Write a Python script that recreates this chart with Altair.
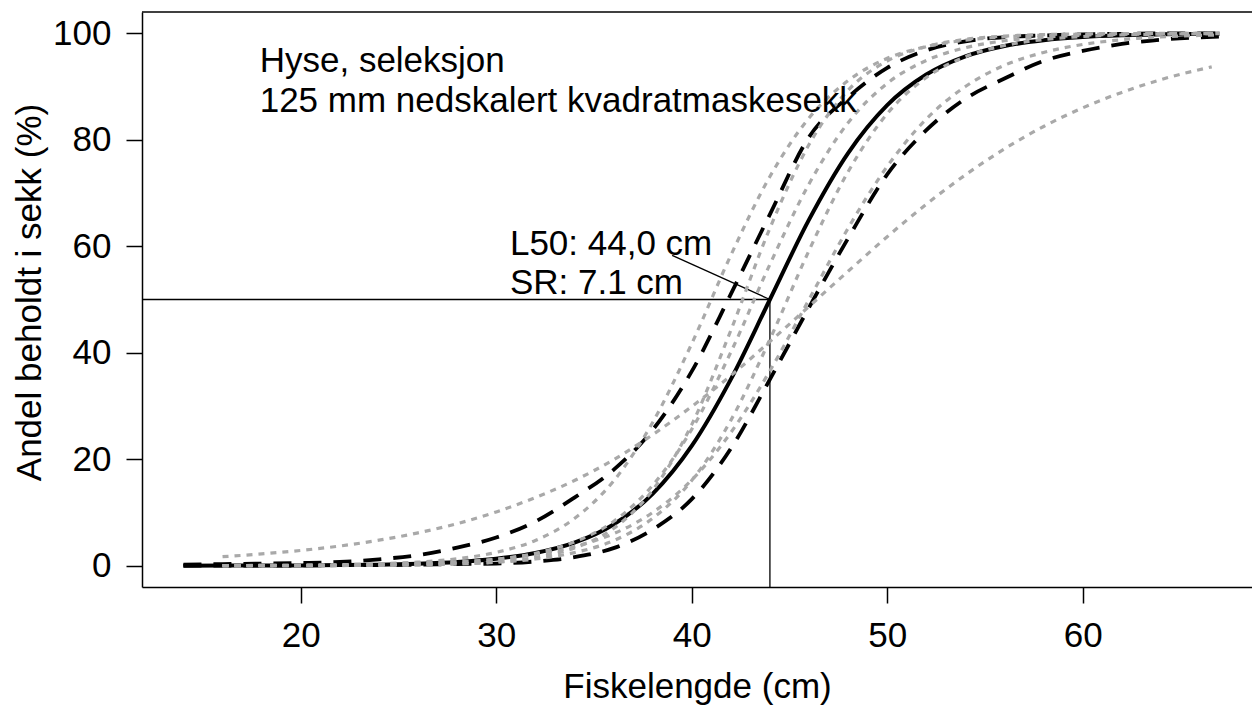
import altair as alt
import pandas as pd

# ---- data ----
L_BLACK = [14, 16, 18, 20, 22, 24, 26, 28, 30, 32, 34, 36, 38, 40, 42, 44,
           46, 48, 50, 52, 54, 56, 58, 60, 62, 64, 67]
L_GRAY = [16, 18, 20, 22, 24, 26, 28, 30, 32, 34, 36, 38, 40, 42, 44,
          46, 48, 50, 52, 54, 56, 58, 60, 62, 64, 67]
L_FLAT = [16, 18, 20, 22, 24, 26, 28, 30, 32, 34, 36, 38, 40, 42, 44,
          46, 48, 50, 52, 54, 56, 58, 60, 62, 64, 66.6]

SOLID = [0.01, 0.02, 0.03, 0.06, 0.11, 0.20, 0.38, 0.70, 1.30, 2.38, 4.33, 7.75,
         13.5, 22.5, 35.0, 50.0, 65.0, 77.5, 86.5, 92.25, 95.67, 97.62, 98.70,
         99.30, 99.62, 99.80, 99.92]
UPPER = [0.2, 0.3, 0.4, 0.5, 0.7, 1.2, 2.0, 3.4, 5.3, 8.3, 12.8, 18.0, 25.5,
         36.5, 51.0, 66.0, 80.5, 88.0, 93.5, 96.8, 98.5, 99.3, 99.6, 99.8,
         99.9, 100.0, 100.0]
LOWER = [0.0, 0.0, 0.0, 0.05, 0.1, 0.1, 0.2, 0.3, 0.4, 0.8, 1.6, 3.3, 6.8,
         12.5, 22.0, 35.0, 48.5, 61.5, 73.5, 81.8, 87.7, 91.5, 94.8, 96.7,
         98.0, 98.8, 99.4]

G1 = [0.02, 0.05, 0.09, 0.18, 0.35, 0.67, 1.30, 2.51, 4.74, 8.87, 15.9, 26.9,
      41.7, 58.3, 73.1, 84.1, 91.1, 95.3, 97.5, 98.7, 99.33, 99.65, 99.82,
      99.91, 99.95, 99.98]
G2 = [0.003, 0.006, 0.014, 0.03, 0.07, 0.15, 0.33, 0.71, 1.54, 3.32, 7.0,
      14.2, 26.5, 44.2, 63.4, 79.1, 89.3, 94.8, 97.5, 98.87, 99.48, 99.76,
      99.89, 99.95, 99.98, 99.99]
G3 = [0.01, 0.02, 0.04, 0.09, 0.17, 0.33, 0.63, 1.21, 2.34, 4.47, 8.3, 15.1,
      25.6, 40.1, 56.6, 71.7, 83.2, 90.6, 94.9, 97.3, 98.6, 99.28, 99.63,
      99.81, 99.90, 99.96]
G4 = [0.01, 0.01, 0.02, 0.04, 0.09, 0.17, 0.33, 0.64, 1.26, 2.46, 4.7, 8.9,
      16.0, 27.3, 42.5, 59.2, 74.0, 84.9, 91.7, 95.6, 97.7, 98.82, 99.39,
      99.69, 99.84, 99.94]
G5 = [0.03, 0.05, 0.08, 0.14, 0.24, 0.41, 0.71, 1.22, 2.10, 3.6, 6.0, 10.0,
      16.1, 25.0, 36.6, 50.0, 63.4, 75.0, 83.9, 90.0, 94.0, 96.4, 97.9, 98.8,
      99.3, 99.7]
G6 = [1.69, 2.21, 2.87, 3.70, 4.79, 6.17, 7.9, 10.1, 12.8, 16.0, 19.9, 24.6,
      29.9, 35.7, 42.1, 48.7, 55.3, 61.8, 67.9, 73.4, 78.3, 82.5, 86.0, 88.9,
      91.3, 93.7]

L50 = 44.0
X_TICKS = [20, 30, 40, 50, 60]
Y_TICKS = [0, 20, 40, 60, 80, 100]
TITLE_LINES = ["Hyse, seleksjon", "125 mm nedskalert kvadratmaskesekk"]
STAT_LINES = ["L50: 44,0 cm", "SR: 7.1 cm"]

# ---- tables ----
def table(name, xs, ys):
    return pd.DataFrame({"l": xs, "p": ys, "curve": name})

solid_df = table("fit", L_BLACK, SOLID)
dash_df = pd.concat([table("upper", L_BLACK, UPPER), table("lower", L_BLACK, LOWER)])
gray_df = pd.concat([
    table("g1", L_GRAY, G1), table("g2", L_GRAY, G2), table("g3", L_GRAY, G3),
    table("g4", L_GRAY, G4), table("g5", L_GRAY, G5), table("g6", L_FLAT, G6),
])

X_DOMAIN = [11.88, 68.66]
Y_DOMAIN = [-4, 104]
FONT = "Liberation Sans"
FS = 35

xs = alt.Scale(domain=X_DOMAIN, nice=False, zero=False)
ys = alt.Scale(domain=Y_DOMAIN, nice=False, zero=False)

x_axis = alt.Axis(values=X_TICKS, title="Fiskelengde (cm)", grid=False,
                  tickSize=16, tickWidth=1.5, tickColor="black",
                  domainColor="black", domainWidth=1.5,
                  labelFont=FONT, labelFontSize=FS, labelColor="black",
                  labelPadding=15, labelFlush=False, labelOverlap=False,
                  titleFont=FONT, titleFontSize=FS, titleFontWeight="normal",
                  titleColor="black", titleBaseline="middle", titleY=99)
y_axis = alt.Axis(values=Y_TICKS, title="Andel beholdt i sekk (%)", grid=False,
                  tickSize=16, tickWidth=1.5, tickColor="black",
                  domainColor="black", domainWidth=1.5,
                  labelFont=FONT, labelFontSize=FS, labelColor="black",
                  labelPadding=15, labelFlush=False, labelOverlap=False,
                  titleFont=FONT, titleFontSize=FS, titleFontWeight="normal",
                  titleColor="black", titleBaseline="middle", titleX=-113,
                  titleY=280)

X = alt.X("l:Q", scale=xs, axis=x_axis)
Y = alt.Y("p:Q", scale=ys, axis=y_axis)

solid = alt.Chart(solid_df).mark_line(color="black", strokeWidth=4,
                                      interpolate="monotone", clip=True).encode(
    x=X, y=Y, detail="curve:N")
dashed = alt.Chart(dash_df).mark_line(color="black", strokeWidth=3.8,
                                      strokeDash=[18, 12], interpolate="monotone",
                                      clip=True).encode(
    x=alt.X("l:Q", scale=xs), y=alt.Y("p:Q", scale=ys), detail="curve:N")
dotted = alt.Chart(gray_df).mark_line(color="#a9a9a9", strokeWidth=3.2,
                                      strokeDash=[6, 6], interpolate="monotone",
                                      clip=True).encode(
    x=alt.X("l:Q", scale=xs), y=alt.Y("p:Q", scale=ys), detail="curve:N")

# reference lines at L50
ref_df = pd.DataFrame({
    "x1": [X_DOMAIN[0], L50, 39.0],
    "x2": [L50, L50, L50],
    "y1": [50, Y_DOMAIN[0], 58.3],
    "y2": [50, 50, 50],
})
refs = alt.Chart(ref_df).mark_rule(color="black", strokeWidth=1.3).encode(
    x=alt.X("x1:Q", scale=xs), x2="x2:Q",
    y=alt.Y("y1:Q", scale=ys), y2="y2:Q")

# top frame
frame_df = pd.DataFrame({"x1": [X_DOMAIN[0]], "x2": [X_DOMAIN[1]], "y1": [Y_DOMAIN[1]]})
frame = alt.Chart(frame_df).mark_rule(color="black", strokeWidth=1.5).encode(
    x=alt.X("x1:Q", scale=xs), x2="x2:Q", y=alt.Y("y1:Q", scale=ys))

text_df = pd.DataFrame({
    "label": TITLE_LINES + STAT_LINES,
    "tx": [17.9, 17.9, 30.7, 30.7],
    "ty": [92.7, 85.2, 58.4, 51.0],
})
texts = alt.Chart(text_df).mark_text(align="left", baseline="alphabetic",
                                     font=FONT, fontSize=FS, color="black").encode(
    x=alt.X("tx:Q", scale=xs), y=alt.Y("ty:Q", scale=ys), text="label:N")

chart = alt.layer(solid, dashed, refs, dotted, frame, texts).properties(
    width=1110, height=575,
    autosize=alt.AutoSizeParams(type="none"),
    padding={"left": 134, "top": 4, "right": 0, "bottom": 120},
    background="white",
).configure_view(stroke=None)

chart.save("out.html", embed_options={"renderer": "svg", "actions": False})
